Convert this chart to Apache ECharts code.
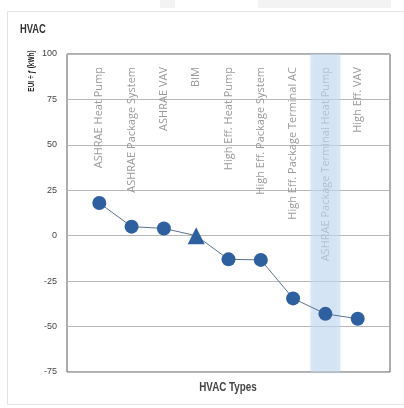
<!DOCTYPE html>
<html>
<head>
<meta charset="utf-8">
<script src="https://cdn.jsdelivr.net/npm/echarts@6/dist/echarts.min.js"></script>
<style>
  html, body { margin: 0; padding: 0; background: #fff; }
  #chart { width: 404px; height: 408px; }
</style>
</head>
<body>
<div id="chart"></div>
<script>
// HVAC system types compared by EUI ÷ ƒ (kWh)
const categories = [
  'ASHRAE Heat Pump',
  'ASHRAE Package System',
  'ASHRAE VAV',
  'BIM',
  'High Eff. Heat Pump',
  'High Eff. Package System',
  'High Eff. Package Terminal AC',
  'ASHRAE Package Terminal Heat Pump',
  'High Eff. VAV'
];
const euiValues = [18, 5, 4, 0, -13, -13.3, -34.5, -43, -45.7];
const yTicks = { min: -75, max: 100, step: 25 };
const highlightIndex = 7;   // shaded column
const baselineIndex = 3;    // BIM drawn as a triangle

const seriesData = euiValues.map((v, i) => {
  const item = { value: [i, v] };
  if (i === baselineIndex) {
    item.symbol = 'triangle';
    item.symbolSize = 17;
  }
  return item;
});

// condensed bold headings are drawn with a horizontal squeeze
const headFont = '"Liberation Sans", Arial, sans-serif';

const chart = echarts.init(document.getElementById('chart'), null, { renderer: 'canvas' });
chart.setOption({
  animation: false,
  backgroundColor: '#fff',
  grid: {
    left: 67, top: 54, right: 14, bottom: 36,
    show: true, borderColor: '#5a5a5a', borderWidth: 1, backgroundColor: 'transparent'
  },
  xAxis: {
    type: 'value',
    position: 'top',
    min: -1,
    max: categories.length,
    interval: 1,
    axisLine: { show: false },
    axisTick: { show: false },
    splitLine: { show: false },
    axisLabel: {
      inside: true,
      rotate: 90,
      margin: 13,
      fontSize: 11,
      color: '#9a9a9a',
      fontFamily: '"Open Sans", "Noto Sans", sans-serif',
      showMinLabel: true,
      showMaxLabel: true,
      formatter: v => (v >= 0 && v < categories.length) ? categories[v] : ''
    }
  },
  yAxis: {
    type: 'value',
    min: yTicks.min,
    max: yTicks.max,
    interval: yTicks.step,
    axisLine: { show: false },
    axisTick: { show: false },
    splitLine: { lineStyle: { color: '#b8b8b8', width: 1 } },
    axisLabel: {
      margin: 10,
      fontSize: 9,
      color: '#444',
      fontFamily: '"Liberation Sans", Arial, sans-serif'
    }
  },
  series: [{
    type: 'line',
    data: seriesData,
    symbol: 'circle',
    symbolSize: 14,
    lineStyle: { color: '#5d7190', width: 1 },
    itemStyle: { color: '#2e5f9f' },
    z: 3,
    markArea: {
      silent: true,
      itemStyle: { color: 'rgba(190, 214, 238, 0.5)', shadowColor: 'rgba(190,214,238,0.6)', shadowBlur: 4 },
      data: [[{ xAxis: highlightIndex - 0.46 }, { xAxis: highlightIndex + 0.46 }]]
    }
  }],
  graphic: [
    { type: 'rect', z: -10, shape: { x: 258, y: 0, width: 133, height: 8 }, style: { fill: '#f3f3f3' } },
    { type: 'rect', z: -10, shape: { x: 160, y: 0, width: 15, height: 8 }, style: { fill: '#f3f3f3' } },
    { type: 'rect', z: -10, shape: { x: 7.5, y: 11.5, width: 400, height: 393 }, style: { fill: '#fff', stroke: '#e2e2e2', lineWidth: 1 } },
    {
      type: 'text', x: 20, y: 30, scaleX: 0.78,
      style: { text: 'HVAC', font: 'bold 12px ' + headFont, fill: '#333', align: 'left', verticalAlign: 'middle' }
    },
    {
      type: 'text', x: 32, y: 71, rotation: Math.PI / 2, scaleX: 0.72,
      style: {
        text: 'EUI ÷ ƒ (kWh)', font: 'bold 9px ' + headFont,
        fill: '#222', align: 'center', verticalAlign: 'middle'
      }
    },
    {
      type: 'text', x: 228, y: 388, scaleX: 0.82,
      style: {
        text: 'HVAC Types', font: 'bold 12px ' + headFont,
        fill: '#444', align: 'center', verticalAlign: 'middle'
      }
    }
  ]
});
</script>
</body>
</html>
